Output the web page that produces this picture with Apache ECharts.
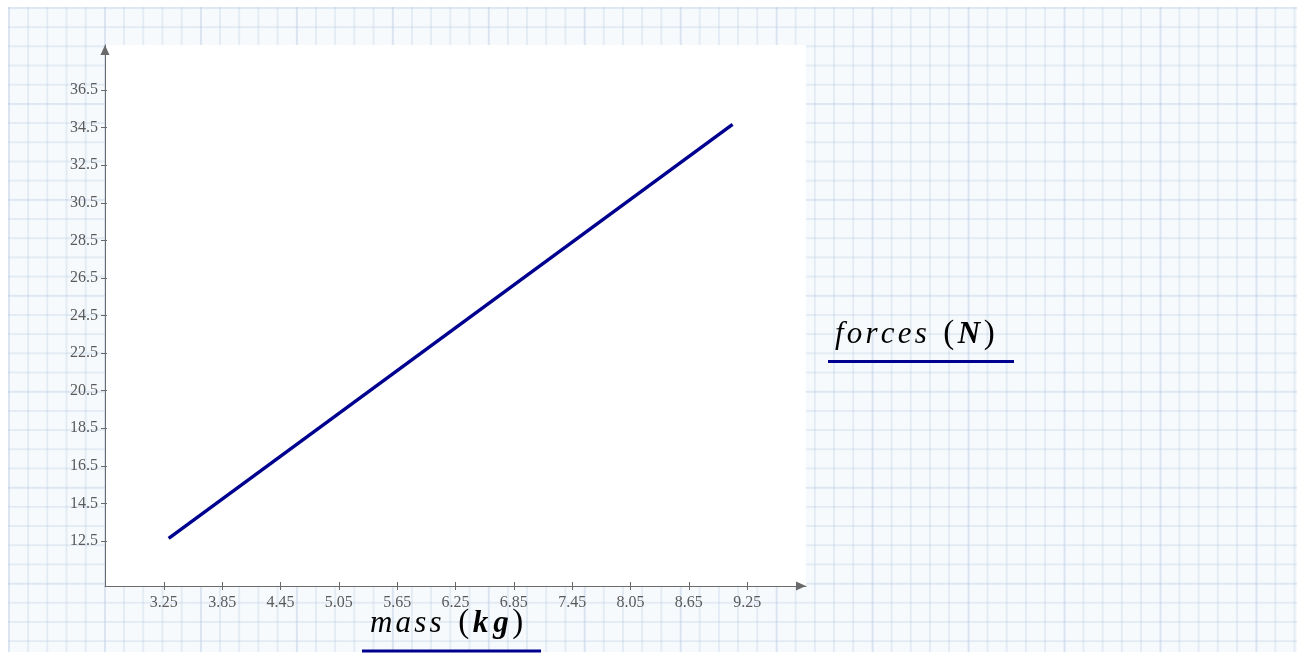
<!DOCTYPE html>
<html>
<head>
<meta charset="utf-8">
<script src="https://cdn.jsdelivr.net/npm/echarts@6/dist/echarts.min.js"></script>
<style>
  html, body { margin: 0; padding: 0; background: #ffffff; }
  #wrap { position: relative; width: 1300px; height: 654px; overflow: hidden; }
  /* engineering-paper worksheet behind the plot */
  #paper {
    position: absolute; left: 8px; top: 7px; width: 1289px; height: 645px;
    background-color: #f7fafd;
    background-image:
      linear-gradient(to right, rgba(170, 192, 220, 0.16) 2px, transparent 2px),
      linear-gradient(to bottom, rgba(170, 192, 220, 0.10) 2px, transparent 2px),
      linear-gradient(to right, rgba(185, 204, 226, 0.32) 2px, transparent 2px),
      linear-gradient(to bottom, rgba(185, 204, 226, 0.32) 2px, transparent 2px);
    background-size: 96px 96px, 96px 96px, 19.2px 19.2px, 19.2px 19.2px;
    background-position: 0 0, 0 0, 0 0, 0 0;
    filter: blur(0.5px);
  }
  #chart { position: absolute; left: 0; top: 0; width: 1300px; height: 654px; }
</style>
</head>
<body>
<div id="wrap">
  <div id="paper"></div>
  <div id="chart"></div>
</div>
<script>
// mass (kg) against force (N)
const mass = [3.3, 9.1];
const forces = [12.64, 34.67];

// tick marks and labels
const massTicks = [3.25, 3.85, 4.45, 5.05, 5.65, 6.25, 6.85, 7.45, 8.05, 8.65, 9.25];
const forceTicks = [12.5, 14.5, 16.5, 18.5, 20.5, 22.5, 24.5, 26.5, 28.5, 30.5, 32.5, 34.5, 36.5];

// axis extents
const massRange = [2.645, 9.855];
const forceRange = [10.105, 38.895];

const AXIS_GRAY = '#6a6a6a';
const LABEL_GRAY = '#5a5a5a';
const NAVY = '#00008f';
const SERIF = '"Liberation Serif", "DejaVu Serif", serif';

// spread a word letter by letter as rich-text tokens
function spaced(word, style) {
  return word.split('').map(function (c) { return '{' + style + '|' + c + '}'; }).join('');
}

const richStyles = {
  it: { fontFamily: SERIF, fontStyle: 'italic', fontSize: 31, color: '#111111', padding: [0, 1.6, 0, 1.6] },
  lp: { fontFamily: SERIF, fontSize: 33, color: '#111111', padding: [0, 1, 0, 15] },
  rp: { fontFamily: SERIF, fontSize: 33, color: '#111111', padding: [0, 0, 0, 1] },
  u: { fontFamily: SERIF, fontStyle: 'italic', fontWeight: 'bold', fontSize: 31, color: NAVY, padding: [0, 2.5, 0, 2.5] }
};

const chart = echarts.init(document.getElementById('chart'), null, { renderer: 'canvas' });

const tickLabelStyle = { fontFamily: SERIF, fontSize: 16, color: LABEL_GRAY };

chart.setOption({
  backgroundColor: 'transparent',
  animation: false,
  grid: {
    left: 105, top: 45, width: 701, height: 541,
    show: true, backgroundColor: '#ffffff', borderWidth: 0,
    containLabel: false
  },
  xAxis: [
    {
      type: 'value', min: massRange[0], max: massRange[1],
      position: 'bottom',
      axisLine: {
        onZero: false,
        lineStyle: { color: AXIS_GRAY, width: 1 },
        symbol: ['none', 'triangle'], symbolSize: [9, 10], symbolOffset: [0, -5]
      },
      axisTick: { show: true, length: 4, lineStyle: { color: AXIS_GRAY }, customValues: massTicks },
      axisLabel: Object.assign({ margin: 9, customValues: massTicks,
        formatter: function (v) { return v.toFixed(2); } }, tickLabelStyle),
      splitLine: { show: false }
    },
    {
      type: 'value', min: massRange[0], max: massRange[1],
      position: 'bottom',
      axisLine: { show: false, onZero: false },
      axisTick: { show: true, inside: true, length: 4, lineStyle: { color: AXIS_GRAY }, customValues: massTicks },
      axisLabel: { show: false },
      splitLine: { show: false }
    }
  ],
  yAxis: [
    {
      type: 'value', min: forceRange[0], max: forceRange[1],
      position: 'left',
      axisLine: {
        show: true, onZero: false,
        lineStyle: { color: AXIS_GRAY, width: 1 },
        symbol: ['none', 'triangle'], symbolSize: [9, 10], symbolOffset: [0, -5]
      },
      axisTick: { show: true, length: 4, lineStyle: { color: AXIS_GRAY }, customValues: forceTicks },
      axisLabel: Object.assign({ margin: 7, customValues: forceTicks,
        formatter: function (v) { return v.toFixed(1); } }, tickLabelStyle),
      splitLine: { show: false }
    },
    {
      type: 'value', min: forceRange[0], max: forceRange[1],
      position: 'left',
      axisLine: { show: false, onZero: false },
      axisTick: { show: true, inside: true, length: 2, lineStyle: { color: AXIS_GRAY }, customValues: forceTicks },
      axisLabel: { show: false },
      splitLine: { show: false }
    }
  ],
  series: [
    {
      type: 'line',
      xAxisIndex: 0, yAxisIndex: 0,
      data: mass.map(function (m, i) { return [m, forces[i]]; }),
      showSymbol: false, symbol: 'none',
      lineStyle: { color: NAVY, width: 3.4 },
      z: 5
    }
  ],
  graphic: [
    {
      type: 'text', left: 835, top: 318, z: 10,
      style: {
        text: spaced('forces', 'it') + '{lp|(}' + '{u|N}' + '{rp|)}',
        rich: richStyles
      }
    },
    {
      type: 'line', z: 10,
      shape: { x1: 828, y1: 361.5, x2: 1014, y2: 361.5 },
      style: { stroke: NAVY, lineWidth: 3 }
    },
    {
      type: 'text', left: 370, top: 607, z: 10,
      style: {
        text: spaced('mass', 'it') + '{lp|(}' + spaced('kg', 'u') + '{rp|)}',
        rich: richStyles
      }
    },
    {
      type: 'line', z: 10,
      shape: { x1: 362, y1: 651, x2: 541, y2: 651 },
      style: { stroke: NAVY, lineWidth: 3 }
    }
  ]
});
</script>
</body>
</html>
